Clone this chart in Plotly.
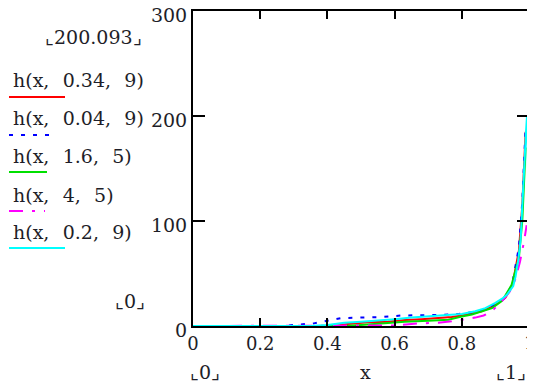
import plotly.graph_objects as go

# ---- data ----
SEP = ",\u2002\u2009"
names = ["h(x" + SEP + "0.34" + SEP + "9)", "h(x" + SEP + "0.04" + SEP + "9)", "h(x" + SEP + "1.6" + SEP + "5)",
         "h(x" + SEP + "4" + SEP + "5)", "h(x" + SEP + "0.2" + SEP + "9)"]

x_red = [0, 0.42, 0.46, 0.52, 0.58, 0.63, 0.68, 0.73, 0.77, 0.80, 0.83, 0.86, 0.90, 0.93, 0.95, 0.97, 0.98, 0.99]
y_red = [0, 0, 2, 3.5, 4, 5.7, 6.5, 7.5, 8.5, 10, 12, 14, 20, 27, 38, 72, 115, 185]

x_blue = [0, 0.27, 0.30, 0.33, 0.36, 0.40, 0.44, 0.50, 0.56, 0.62, 0.68, 0.74, 0.79, 0.83, 0.86, 0.90, 0.93, 0.95, 0.97, 0.98, 0.99]
y_blue = [0, 0, 1, 1.5, 2.5, 5, 7.5, 8, 8.5, 10, 10, 10.5, 11.5, 13, 15, 21, 27, 40, 75, 118, 190]

x_green = [0, 0.45, 0.50, 0.56, 0.63, 0.70, 0.76, 0.80, 0.83, 0.86, 0.89, 0.92, 0.948, 0.97, 0.98, 0.99]
y_green = [0, 0, 1, 2.5, 4, 5, 6, 9, 11, 14, 17, 24, 39, 65, 100, 170]

x_mag = [0, 0.50, 0.60, 0.675, 0.73, 0.77, 0.80, 0.84, 0.865, 0.889, 0.923, 0.943, 0.96, 0.973, 0.985, 0.993]
y_mag = [0, 0, 0.5, 2.5, 3, 4.5, 6, 8, 10, 14, 25, 33, 45, 61, 80, 96]

x_cyan = [0, 0.35, 0.40, 0.45, 0.50, 0.55, 0.60, 0.65, 0.70, 0.75, 0.80, 0.84, 0.87, 0.90, 0.92, 0.935,
          0.945, 0.953, 0.96, 0.968, 0.975, 0.981, 0.985, 0.988, 0.991, 0.994, 0.998, 1.0, 1.0]
y_cyan = [0, 0, 1, 3, 4, 5, 6.5, 8, 9, 10, 11.5, 14, 17, 22, 26, 30,
          35, 38, 47, 63, 82, 125, 150, 175, 185, 200, 100, 100, 0]

x_ticks = [0, 0.2, 0.4, 0.6, 0.8, 1]
x_tick_text = ["0", "0.2", "0.4", "0.6", "0.8", "1"]
y_ticks = [0, 100, 200, 300]
y_tick_text = ["0", "100", "200", "300"]

# ---- styles ----
colors = ["#ff0000", "#0000ff", "#00e000", "#ff00ff", "#00ffff"]
dashes = ["solid", "4px,8px", "solid", "14px,9px,3px,9px", "solid"]
FONT = "DejaVu Serif"
FS = 19
TXT = "#1e1e28"

series = [(x_red, y_red), (x_blue, y_blue), (x_green, y_green), (x_mag, y_mag), (x_cyan, y_cyan)]

fig = go.Figure()
for (xs, ys), nm, c, d in zip(series, names, colors, dashes):
    fig.add_trace(go.Scatter(x=xs, y=ys, mode="lines", name=nm,
                             line=dict(color=c, width=2, dash=d), showlegend=False))

# page body adds an 8px margin; work in figure pixels (= screen - 8)
OFF = 8
W, H = 535 - OFF, 387 - OFF
L, R, T, B = 193 - OFF, 529 - OFF, 11 - OFF, 326 - OFF


def px(xs):
    return (xs - OFF - L) / (R - L)


def py(ys):
    return (B - (ys - OFF)) / (B - T)


annotations = []
shapes = []
label_y = [80, 118, 156, 195, 232]
line_y = [97, 135, 172, 211, 248]
line_x1 = [65, 55, 47, 45, 65]
for nm, c, d, ly, sy, x1 in zip(names, colors, dashes, label_y, line_y, line_x1):
    annotations.append(dict(x=px(11), y=py(ly), xref="paper", yref="paper", text=nm,
                            showarrow=False, xanchor="left", yanchor="middle",
                            font=dict(family=FONT, size=FS, color=TXT)))
    shapes.append(dict(type="line", xref="paper", yref="paper", x0=px(9), x1=px(x1),
                       y0=py(sy), y1=py(sy), line=dict(color=c, width=2, dash=d)))

extra = [("⌞200.093⌟", 93, 37), ("⌞0⌟", 130, 301), ("⌞0⌟", 205, 372), ("x", 365, 372), ("⌞1⌟", 511, 372)]
for t, xx, yy in extra:
    annotations.append(dict(x=px(xx), y=py(yy), xref="paper", yref="paper", text=t,
                            showarrow=False, xanchor="center", yanchor="middle",
                            font=dict(family=FONT, size=FS, color=TXT)))

# last x tick label sits at the right edge: place it as a label at the axis end
annotations.append(dict(x=x_ticks[-1], y=py(342), xref="x", yref="paper", text=x_tick_text[-1],
                        showarrow=False, xanchor="center", yanchor="middle",
                        font=dict(family=FONT, size=18, color=TXT)))

fig.update_layout(
    width=W, height=H,
    margin=dict(l=L, r=W - R, t=T, b=H - B, pad=0, autoexpand=False),
    paper_bgcolor="white", plot_bgcolor="white",
    font=dict(family=FONT, size=FS, color=TXT),
    annotations=annotations, shapes=shapes,
    xaxis=dict(range=[0, 1], tickvals=x_ticks, ticktext=x_tick_text[:-1] + [""], ticks="inside",
               ticklen=8, tickwidth=2, tickcolor="black", showline=True, linecolor="black",
               linewidth=2, mirror="allticks", showgrid=False, zeroline=False, automargin=False,
               ticklabeloverflow="allow",
               tickfont=dict(family=FONT, size=18, color=TXT)),
    yaxis=dict(range=[0, 300], tickvals=y_ticks, ticktext=y_tick_text, ticks="inside",
               ticklen=12, tickwidth=2, tickcolor="black", showline=True, linecolor="black",
               linewidth=2, mirror="allticks", showgrid=False, zeroline=False, automargin=False,
               ticklabeloverflow="allow", ticklabelshift=4,
               tickfont=dict(family=FONT, size=FS, color=TXT)),
)

fig.write_html("out.html")
